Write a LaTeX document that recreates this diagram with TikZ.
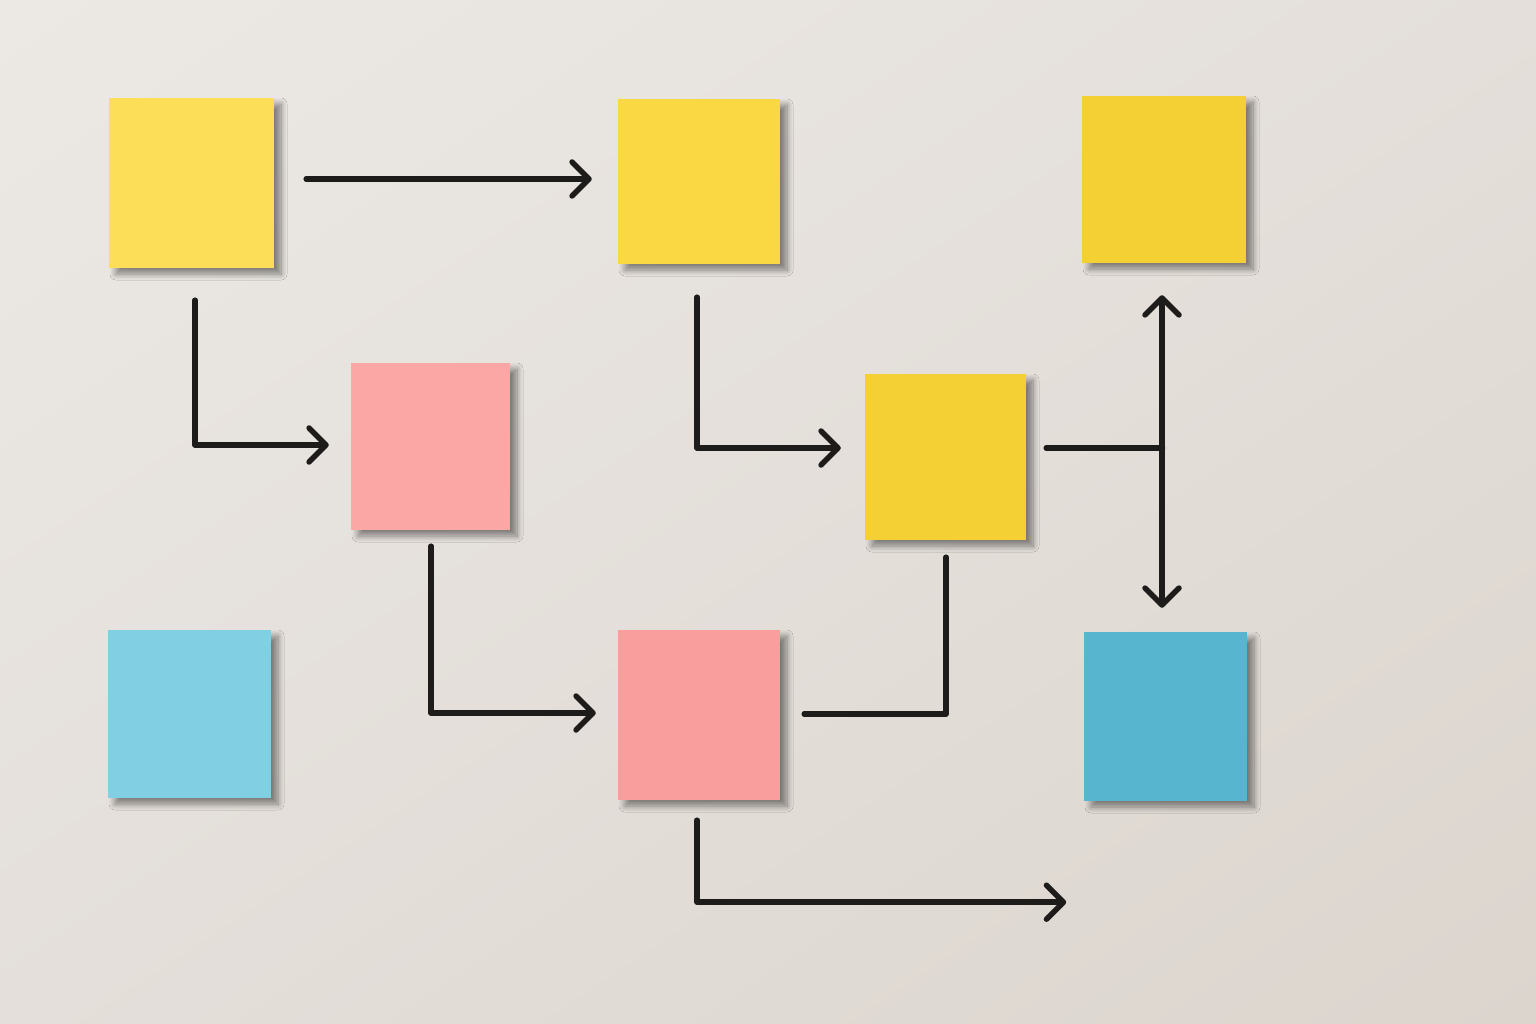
\documentclass[tikz,border=0pt]{standalone}
\usetikzlibrary{arrows.meta,shadows.blur,shadings}
\definecolor{bgA}{HTML}{ECE9E5}
\definecolor{bgB}{HTML}{E4DFDA}
\definecolor{bgC}{HTML}{DCD5CE}
\definecolor{yelA}{HTML}{FDDE58}
\definecolor{yelB}{HTML}{FAD843}
\definecolor{yelC}{HTML}{F5D035}
\definecolor{pinkA}{HTML}{FBA7A6}
\definecolor{pinkB}{HTML}{FA9E9D}
\definecolor{blueA}{HTML}{80CFE2}
\definecolor{blueB}{HTML}{58B5D0}
\definecolor{ink}{HTML}{1E1C1B}
\tikzset{
  note/.style={rectangle, inner sep=0pt, draw=none,
    blur shadow={shadow xshift=7pt, shadow yshift=-6pt, shadow blur radius=6pt, shadow opacity=45, shadow blur steps=10}},
  conn/.style={draw=ink, line width=5.5pt, line cap=round, line join=round},
  tip/.tip={Straight Barb[length=17pt, width=34pt, line width=5.5pt, round]},
  arr/.style={conn, -tip},
  darr/.style={conn, tip-tip}
}
\begin{document}
\begin{tikzpicture}[x=1pt,y=-1pt]
\useasboundingbox (0,0) rectangle (1536,1024);
\shade[upper left=bgA, upper right=bgB, lower left=bgB, lower right=bgC] (0,0) rectangle (1536,1024);

\node[note, fill=yelA, minimum width=165pt, minimum height=170pt] (n1) at (191.5,183) {};
\node[note, fill=yelB, minimum width=162pt, minimum height=165pt] (n2) at (699,181.5) {};
\node[note, fill=yelC, minimum width=164pt, minimum height=167pt] (n3) at (1164,179.5) {};
\node[note, fill=pinkA, minimum width=159pt, minimum height=167pt] (n4) at (430.5,446.5) {};
\node[note, fill=yelC, minimum width=161pt, minimum height=166pt] (n5) at (945.5,457) {};
\node[note, fill=blueA, minimum width=163pt, minimum height=168pt] (n6) at (189.5,714) {};
\node[note, fill=pinkB, minimum width=162pt, minimum height=170pt] (n7) at (699,715) {};
\node[note, fill=blueB, minimum width=163pt, minimum height=169pt] (n8) at (1165.5,716.5) {};

\coordinate (j) at ([xshift=217pt, yshift=9pt]n5.center);
\coordinate (endB) at ([xshift=286pt, yshift=-102pt]n7.south east);

\draw[arr] ([xshift=32pt, yshift=4pt]n1.east) -- ([xshift=-26pt, yshift=2.5pt]n2.west);
\draw[arr] ([xshift=3.5pt, yshift=-32pt]n1.south) |- ([xshift=-22pt, yshift=1.5pt]n4.west);
\draw[arr] ([xshift=-2pt, yshift=-33pt]n2.south) |- ([xshift=-24pt, yshift=9pt]n5.west);
\draw[arr] ([xshift=0.5pt, yshift=-16pt]n4.south) |- ([xshift=-22pt, yshift=2pt]n7.west);
\draw[conn] ([xshift=24pt, yshift=1pt]n7.east) -| ([xshift=0.5pt, yshift=-17pt]n5.south);
\draw[conn] ([xshift=20pt, yshift=9pt]n5.east) -- (j);
\draw[darr] ([xshift=-2pt, yshift=-32pt]n3.south) -- ([xshift=-3.5pt, yshift=24pt]n8.north);
\draw[arr] ([xshift=-2pt, yshift=-20pt]n7.south) |- (endB);
\end{tikzpicture}
\end{document}
